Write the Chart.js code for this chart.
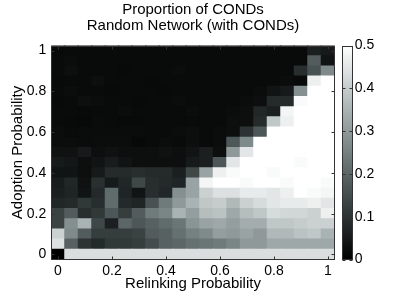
<!DOCTYPE html>
<html><head><meta charset="utf-8">
<script src="https://cdn.jsdelivr.net/npm/chart.js@4/dist/chart.umd.min.js"></script>
<style>html,body{margin:0;padding:0;background:#fff}#wrap{width:399px;height:293px}</style>
</head><body><div id="wrap"><canvas id="c" width="399" height="293"></canvas></div>
<script>
// Axes values
const relinkingProbability = [0,0.05,0.1,0.15,0.2,0.25,0.3,0.35,0.4,0.45,0.5,0.55,0.6,0.65,0.7,0.75,0.8,0.85,0.9,0.95,1];
const adoptionProbability  = [0,0.05,0.1,0.15,0.2,0.25,0.3,0.35,0.4,0.45,0.5,0.55,0.6,0.65,0.7,0.75,0.8,0.85,0.9,0.95,1];
const xTickLabels = ['0','0.2','0.4','0.6','0.8','1'];
const yTickValues = [0,0.2,0.4,0.6,0.8,1];
const colorbarTicks = [0,0.1,0.2,0.3,0.4,0.5];

// Proportion of CONDs, one array per adoption probability (columns = relinking probability)
const condsAdopt000 = [0.00,0.435,0.435,0.435,0.435,0.435,0.435,0.435,0.435,0.435,0.435,0.435,0.435,0.435,0.435,0.435,0.435,0.435,0.435,0.435,0.435];
const condsAdopt005 = [0.44,0.19,0.10,0.08,0.11,0.11,0.12,0.15,0.19,0.20,0.22,0.23,0.24,0.26,0.30,0.30,0.33,0.33,0.33,0.33,0.33];
const condsAdopt010 = [0.41,0.27,0.18,0.12,0.12,0.12,0.13,0.18,0.19,0.22,0.25,0.27,0.31,0.30,0.32,0.30,0.36,0.36,0.38,0.39,0.35];
const condsAdopt015 = [0.13,0.28,0.35,0.14,0.06,0.20,0.17,0.19,0.21,0.23,0.29,0.32,0.33,0.31,0.34,0.34,0.39,0.39,0.40,0.41,0.41];
const condsAdopt020 = [0.13,0.18,0.09,0.11,0.17,0.12,0.18,0.24,0.26,0.35,0.31,0.37,0.38,0.33,0.37,0.39,0.43,0.42,0.42,0.41,0.47];
const condsAdopt025 = [0.075,0.08,0.11,0.09,0.21,0.08,0.07,0.16,0.24,0.30,0.35,0.39,0.40,0.36,0.41,0.43,0.45,0.46,0.46,0.47,0.45];
const condsAdopt030 = [0.06,0.07,0.04,0.08,0.21,0.07,0.04,0.09,0.075,0.28,0.32,0.41,0.44,0.44,0.46,0.46,0.45,0.47,0.50,0.49,0.48];
const condsAdopt035 = [0.055,0.075,0.035,0.095,0.05,0.075,0.14,0.09,0.08,0.07,0.32,0.48,0.50,0.50,0.49,0.50,0.50,0.49,0.50,0.50,0.49];
const condsAdopt040 = [0.04,0.04,0.03,0.05,0.085,0.085,0.09,0.085,0.085,0.06,0.14,0.32,0.47,0.49,0.50,0.50,0.49,0.50,0.50,0.50,0.50];
const condsAdopt045 = [0.05,0.045,0.03,0.04,0.055,0.04,0.03,0.03,0.03,0.03,0.05,0.06,0.17,0.45,0.50,0.50,0.50,0.50,0.49,0.50,0.50];
const condsAdopt050 = [0.035,0.035,0.05,0.03,0.035,0.03,0.03,0.03,0.035,0.03,0.04,0.06,0.03,0.30,0.45,0.50,0.50,0.50,0.50,0.50,0.50];
const condsAdopt055 = [0.025,0.025,0.024,0.025,0.025,0.025,0.015,0.02,0.025,0.02,0.03,0.02,0.025,0.17,0.27,0.50,0.50,0.50,0.50,0.50,0.50];
const condsAdopt060 = [0.025,0.02,0.024,0.024,0.024,0.024,0.024,0.02,0.02,0.025,0.03,0.02,0.025,0.03,0.10,0.17,0.50,0.50,0.50,0.50,0.50];
const condsAdopt065 = [0.02,0.018,0.015,0.024,0.02,0.018,0.018,0.02,0.02,0.02,0.02,0.02,0.02,0.03,0.03,0.085,0.39,0.47,0.50,0.50,0.50];
const condsAdopt070 = [0.02,0.022,0.018,0.02,0.02,0.025,0.02,0.02,0.022,0.02,0.025,0.02,0.02,0.025,0.03,0.075,0.06,0.48,0.50,0.50,0.50];
const condsAdopt075 = [0.018,0.02,0.03,0.025,0.02,0.02,0.018,0.02,0.02,0.025,0.02,0.02,0.02,0.02,0.025,0.03,0.085,0.085,0.49,0.50,0.50];
const condsAdopt080 = [0.02,0.025,0.02,0.02,0.018,0.02,0.02,0.02,0.018,0.02,0.02,0.02,0.02,0.02,0.02,0.025,0.04,0.05,0.28,0.50,0.50];
const condsAdopt085 = [0.018,0.02,0.02,0.03,0.02,0.02,0.02,0.018,0.02,0.02,0.02,0.02,0.02,0.02,0.02,0.02,0.02,0.025,0.02,0.47,0.50];
const condsAdopt090 = [0.02,0.03,0.02,0.02,0.02,0.018,0.02,0.02,0.02,0.025,0.02,0.02,0.02,0.02,0.02,0.02,0.02,0.02,0.09,0.16,0.27];
const condsAdopt095 = [0.02,0.025,0.02,0.02,0.02,0.02,0.02,0.02,0.02,0.02,0.02,0.02,0.02,0.02,0.02,0.02,0.02,0.02,0.02,0.18,0.04];
const condsAdopt100 = [0.018,0.02,0.02,0.02,0.02,0.02,0.02,0.02,0.02,0.02,0.02,0.02,0.02,0.02,0.02,0.02,0.02,0.02,0.02,0.06,0.05];

const condsRows = [condsAdopt000,condsAdopt005,condsAdopt010,condsAdopt015,condsAdopt020,condsAdopt025,condsAdopt030,
  condsAdopt035,condsAdopt040,condsAdopt045,condsAdopt050,condsAdopt055,condsAdopt060,condsAdopt065,condsAdopt070,
  condsAdopt075,condsAdopt080,condsAdopt085,condsAdopt090,condsAdopt095,condsAdopt100];

const CMAX = 0.5;
function grayColor(v){
  const t = Math.max(0, Math.min(1, v / CMAX));
  const g = Math.round(255 * t);
  const r = Math.max(0, Math.round(g - 11 * Math.sin(Math.PI * t)));
  return 'rgb(' + r + ',' + g + ',' + g + ')';
}

const halfStep = (adoptionProbability[1] - adoptionProbability[0]) / 2;
const FONT = "'Liberation Sans', Arial, Helvetica, sans-serif";

const datasets = adoptionProbability.map((a, r) => ({
  label: 'Adoption ' + a,
  data: relinkingProbability.map(() => [a - halfStep, a + halfStep]),
  backgroundColor: condsRows[r].map(grayColor),
  borderWidth: 0,
  barPercentage: 1,
  categoryPercentage: 1,
  inflateAmount: 0.5,
  grouped: false
}));

const frameAndColorbar = {
  id: 'frameAndColorbar',
  afterDatasetsDraw(chart) {
    const { ctx, chartArea: a, scales } = chart;
    ctx.save();
    ctx.strokeStyle = '#333';
    ctx.lineWidth = 1;
    const L = Math.round(a.left) + 0.5, R = Math.round(a.right) - 0.5;
    const T = Math.round(a.top) + 0.5, B = Math.round(a.bottom) - 0.5;
    ctx.strokeRect(L, T, R - L, B - T);
    ctx.beginPath();
    relinkingProbability.forEach((v, i) => {
      if (xTickLabels.some(l => Math.abs(parseFloat(l) - v) < 1e-9)) {
        const x = Math.round(scales.x.getPixelForValue(i)) + 0.5;
        ctx.moveTo(x, B); ctx.lineTo(x, B - 3);
        ctx.moveTo(x, T); ctx.lineTo(x, T + 3);
      }
    });
    yTickValues.forEach(v => {
      const y = Math.round(scales.y.getPixelForValue(v)) + 0.5;
      ctx.moveTo(L, y); ctx.lineTo(L + 3, y);
      ctx.moveTo(R, y); ctx.lineTo(R - 3, y);
    });
    ctx.stroke();
    // colorbar
    const cb = scales.cb;
    const y0 = cb.getPixelForValue(0), y1 = cb.getPixelForValue(CMAX);
    const x0 = Math.round(a.right) + 7.5, w = 10;
    const grad = ctx.createLinearGradient(0, y0, 0, y1);
    for (let k = 0; k <= 20; k++) grad.addColorStop(k / 20, grayColor(CMAX * k / 20));
    ctx.fillStyle = grad;
    ctx.fillRect(x0, Math.round(y1), w, Math.round(y0) - Math.round(y1));
    ctx.strokeRect(x0, Math.round(y1) + 0.5, w, Math.round(y0) - Math.round(y1) - 1);
    ctx.beginPath();
    colorbarTicks.forEach(v => {
      const y = Math.round(cb.getPixelForValue(v)) + 0.5;
      ctx.moveTo(x0 + w, y); ctx.lineTo(x0 + w - 3, y);
      ctx.moveTo(x0, y); ctx.lineTo(x0 + 3, y);
    });
    ctx.stroke();
    ctx.restore();
  }
};

new Chart(document.getElementById('c'), {
  type: 'bar',
  data: { labels: relinkingProbability.map(String), datasets },
  plugins: [frameAndColorbar],
  options: {
    responsive: false,
    animation: false,
    devicePixelRatio: 1,
    layout: { padding: 0 },
    plugins: {
      legend: { display: false },
      tooltip: { enabled: false },
      title: {
        display: true,
        fullSize: false,
        text: ['Proportion of CONDs', 'Random Network (with CONDs)'],
        color: '#000',
        font: { family: FONT, size: 15, weight: 'normal', lineHeight: 1.05 },
        padding: { top: 2, bottom: 12 }
      }
    },
    scales: {
      x: {
        type: 'category',
        offset: true,
        grid: { display: false, drawTicks: false },
        border: { display: false },
        ticks: {
          autoSkip: false, maxRotation: 0, minRotation: 0, padding: 3,
          color: '#000', font: { family: FONT, size: 14 },
          callback: (val, idx) => {
            const v = relinkingProbability[idx];
            const lab = xTickLabels.find(l => Math.abs(parseFloat(l) - v) < 1e-9);
            return lab === undefined ? '' : lab;
          }
        },
        title: { display: true, text: 'Relinking Probability', color: '#000',
                 font: { family: FONT, size: 15 }, padding: { top: 0, bottom: 0 } },
        afterFit: s => { s.height = 33.5; }
      },
      y: {
        type: 'linear',
        min: adoptionProbability[0] - halfStep,
        max: adoptionProbability[adoptionProbability.length - 1] + halfStep,
        grid: { display: false, drawTicks: false },
        border: { display: false },
        afterBuildTicks: s => { s.ticks = yTickValues.map(v => ({ value: v })); },
        ticks: { padding: 5, color: '#000', font: { family: FONT, size: 14 },
                 callback: v => String(Math.round(v * 10) / 10) },
        title: { display: true, text: 'Adoption Probability', color: '#000',
                 font: { family: FONT, size: 15 }, padding: { top: 9, bottom: 0 } },
        afterFit: s => { s.width = 51.25; }
      },
      cb: {
        type: 'linear',
        position: 'right',
        min: 0, max: CMAX,
        grid: { display: false, drawTicks: false },
        border: { display: false },
        afterBuildTicks: s => { s.ticks = colorbarTicks.map(v => ({ value: v })); },
        ticks: { padding: 20, color: '#000', font: { family: FONT, size: 14 },
                 callback: v => String(Math.round(v * 10) / 10) },
        afterFit: s => { s.width = 64.25; }
      }
    }
  }
});
</script>
</body></html>
